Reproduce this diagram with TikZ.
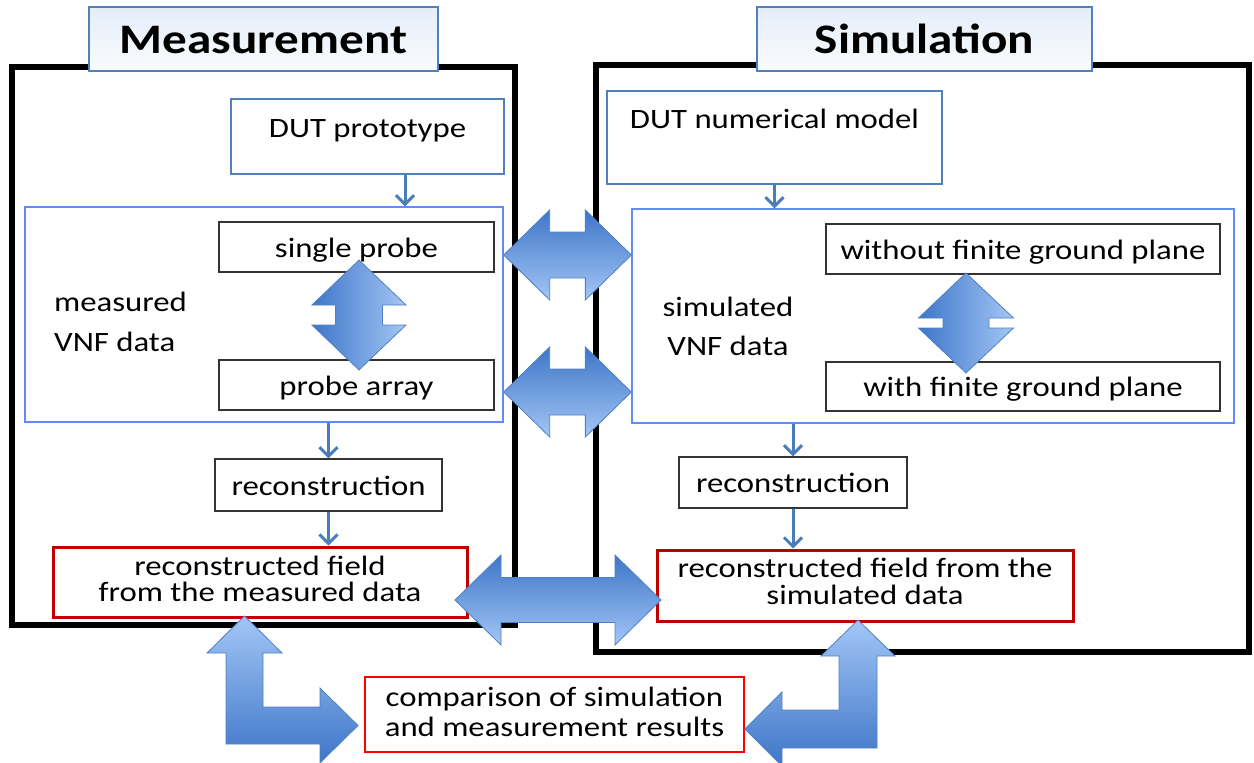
\documentclass[tikz,border=0pt]{standalone}
\usepackage{fontspec}
\setmainfont{Carlito}[FakeStretch=1.17]
\usetikzlibrary{arrows.meta,fit,calc}
\definecolor{frameblue}{RGB}{79,129,189}
\definecolor{vnfblue}{RGB}{95,140,245}
\definecolor{arrdark}{RGB}{62,118,200}
\definecolor{arrlight}{RGB}{163,198,246}
\definecolor{arredge}{RGB}{80,128,196}
\definecolor{darkred}{RGB}{192,0,0}
\definecolor{flowblue}{RGB}{74,126,187}
\definecolor{titletop}{RGB}{228,237,248}
\definecolor{titlebot}{RGB}{250,252,254}
% horizontal double block arrow: left tip, right tip, head length, head half height, shaft half height
\newcommand\HDArrow[5]{%
  \path[bigarrow,hshade] (#1) -- ($(#1)+(#3,-#4)$) -- ($(#1)+(#3,-#5)$) -- ($(#2)+(-#3,-#5)$) -- ($(#2)+(-#3,-#4)$) -- (#2)
    -- ($(#2)+(-#3,#4)$) -- ($(#2)+(-#3,#5)$) -- ($(#1)+(#3,#5)$) -- ($(#1)+(#3,#4)$) -- cycle;}
% vertical double block arrow: top tip, bottom tip, head length, head half width, shaft half width
\newcommand\VDArrow[5]{%
  \path[bigarrow,vshade] (#1) -- ($(#1)+(#4,#3)$) -- ($(#1)+(#5,#3)$) -- ($(#2)+(#5,-#3)$) -- ($(#2)+(#4,-#3)$) -- (#2)
    -- ($(#2)+(-#4,-#3)$) -- ($(#2)+(-#5,-#3)$) -- ($(#1)+(-#5,#3)$) -- ($(#1)+(-#4,#3)$) -- cycle;}
\begin{document}
\begin{tikzpicture}[x=1pt,y=-1pt,
  blackframe/.style={draw=black,line width=5.5pt,inner sep=0pt},
  titlebox/.style={draw=frameblue,line width=2.5pt,top color=titletop,bottom color=titlebot,inner sep=0pt,
    font=\fontsize{42}{50}\selectfont\bfseries,text height=28pt,text depth=0pt},
  dutbox/.style={draw=frameblue,line width=1.3pt,fill=white,inner sep=0pt,font=\fontsize{28}{34}\selectfont},
  vnfbox/.style={draw=vnfblue,line width=1.3pt,fill=white,inner sep=0pt},
  blackbox/.style={draw=black!80,line width=1.3pt,fill=white,inner sep=0pt,
    font=\fontsize{28}{34}\selectfont,text height=20pt,text depth=0pt},
  redbox/.style={draw=darkred,line width=3pt,fill=white,inner sep=0pt,align=center},
  compbox/.style={draw=red,line width=1.2pt,fill=white,inner sep=0pt,align=center,font=\fontsize{28}{30}\selectfont},
  plaintext/.style={inner sep=0pt,font=\fontsize{28}{40}\selectfont},
  flow/.style={draw=flowblue,line width=3pt,-{Straight Barb[length=9pt,width=18pt]}},
  bigarrow/.style={draw=arredge,line width=0.8pt,line join=miter},
  hshade/.style={top color=arrdark,bottom color=arrlight},
  vshade/.style={left color=arrdark,right color=arrlight},
  bshade/.style={top color=arrlight,bottom color=arrdark}
]
\useasboundingbox (0,0) rectangle (1254,763);

% frames
\node[blackframe, fit={(12,67) (515,625)}] (mframe) {};
\node[blackframe, fit={(596,65) (1249,652)}] (sframe) {};

% titles
\node[titlebox, minimum width=349pt, minimum height=64pt] (mtitle) at (263.5,39) {Measurement};
\node[titlebox, minimum width=335pt, minimum height=64pt] (stitle) at (924.5,39) {Simulation};

% measurement side
\node[dutbox, minimum width=273pt, minimum height=75pt, text height=20pt, text depth=19pt] (dutp) at (367.5,136.5) {DUT prototype};
\node[vnfbox, minimum width=478pt, minimum height=215pt] (mvnf) at (264,314.5) {};
\node[plaintext, anchor=west, align=left] (mtxt) at (54,322) {measured\\VNF data};
\node[blackbox, minimum width=275pt, minimum height=50pt] (sp) at (356.5,247) {single probe};
\node[blackbox, minimum width=275pt, minimum height=50pt] (pa) at (356.5,385) {probe array};
\node[blackbox, minimum width=227pt, minimum height=52pt] (rec1) at (328.5,485) {reconstruction};
\node[redbox, minimum width=414pt, minimum height=70pt, font=\fontsize{28}{26}\selectfont] (red1) at (260,582)
  {reconstructed field\\from the measured data\rule[-7pt]{0pt}{7pt}};

% simulation side
\node[dutbox, minimum width=335pt, minimum height=93pt, text height=20pt, text depth=39pt] (dutn) at (774.5,137.5) {DUT numerical model};
\node[vnfbox, minimum width=602pt, minimum height=214pt] (svnf) at (933,316) {};
\node[plaintext, align=center, font=\fontsize{28}{39}\selectfont] (stxt) at (728,326) {simulated\\VNF data};
\node[blackbox, minimum width=394pt, minimum height=50pt] (wo) at (1023,249) {without finite ground plane};
\node[blackbox, minimum width=394pt, minimum height=49pt] (wi) at (1023,386.5) {with finite ground plane};
\node[blackbox, minimum width=228pt, minimum height=51pt] (rec2) at (793,482.5) {reconstruction};
\node[redbox, minimum width=416pt, minimum height=71pt, font=\fontsize{28}{27}\selectfont] (red2) at (865,585.5)
  {reconstructed field from the\\simulated data\rule[-8pt]{0pt}{8pt}};

% comparison
\node[compbox, minimum width=379pt, minimum height=75pt] (comp) at (554.5,714.5)
  {comparison of simulation\\and measurement results\rule[-5pt]{0pt}{5pt}};

% small flow arrows
\coordinate (ax1) at (405,0);
\draw[flow] (dutp.south -| ax1) -- (mvnf.north -| ax1);
\draw[flow] (mvnf.south -| rec1.north) -- (rec1.north);
\draw[flow] (rec1.south) -- (red1.north -| rec1.south);
\draw[flow] (dutn.south) -- (svnf.north -| dutn.south);
\draw[flow] (svnf.south -| rec2.north) -- (rec2.north);
\draw[flow] (rec2.south) -- (red2.north -| rec2.south);

% block double arrows
\coordinate (yA) at (0,255);
\coordinate (yB) at (0,392);
\coordinate (c3l) at (455,600);
\coordinate (c3r) at (661,600);
\HDArrow{mvnf.east |- yA}{svnf.west |- yA}{46}{45}{23}
\HDArrow{mvnf.east |- yB}{svnf.west |- yB}{46}{45}{23}
\HDArrow{c3l}{c3r}{46}{45}{22.5}

\coordinate (v1t) at (359,260);
\coordinate (v1b) at (359,370);
\coordinate (v2t) at (966,273);
\coordinate (v2b) at (966,373);
\VDArrow{v1t}{v1b}{45}{47}{23.5}
\VDArrow{v2t}{v2b}{45}{47.5}{23}

% bent arrows
\path[bigarrow,bshade] (244.5,616) -- (282,653) -- (263,653) -- (263,707) -- (320,707) -- (320,688)
  -- (358,725.5) -- (320,763) -- (320,744) -- (226,744) -- (226,653) -- (207,653) -- cycle;
\path[bigarrow,bshade] (858,620) -- (895,656) -- (877,656) -- (877,748) -- (782,748) -- (782,766)
  -- (745,729) -- (782,692) -- (782,710) -- (839,710) -- (839,656) -- (821,656) -- cycle;
\end{tikzpicture}
\end{document}
